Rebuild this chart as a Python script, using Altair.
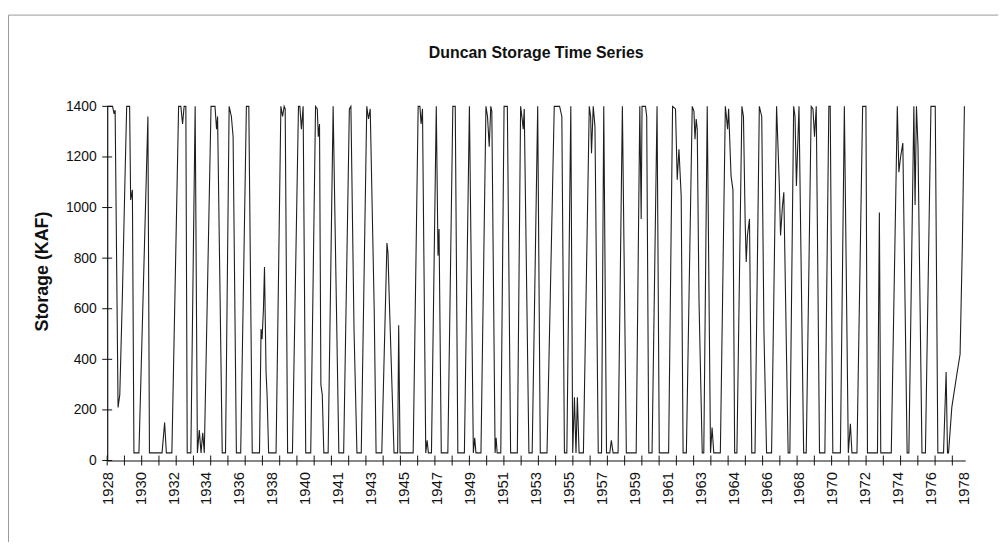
import json
import altair as alt
import pandas as pd

# ---- data: time (decimal years from the start of the record) and storage (KAF)
T_1928 = [1928.00, 1928.31, 1928.40, 1928.46, 1928.63, 1928.73, 1928.88, 1929.03, 1929.13, 1929.30,
          1929.36, 1929.46, 1929.55, 1929.84, 1930.36, 1930.45, 1931.18, 1931.33, 1931.43, 1931.75,
          1932.14, 1932.27, 1932.37, 1932.46, 1932.56, 1932.64, 1932.85, 1933.10, 1933.23, 1933.34,
          1933.44, 1933.54, 1933.63, 1934.02, 1934.25, 1934.34, 1934.40, 1934.67, 1934.86, 1935.07,
          1935.20, 1935.30, 1935.49, 1935.74, 1936.07]
S_1928 = [1400, 1400, 1370, 1385, 210, 260, 650, 1110, 1400, 1400,
          1030, 1070, 30, 30, 1360, 30, 30, 150, 30, 30,
          1400, 1400, 1330, 1400, 1400, 30, 30, 1400, 30, 120,
          30, 110, 30, 1400, 1400, 1310, 1360, 30, 30, 1400,
          1360, 1280, 30, 30, 1400]

T_1936 = [1936.21, 1936.41, 1936.83, 1936.92, 1936.98, 1937.06, 1937.12, 1937.21, 1937.27, 1937.36,
          1937.79, 1938.07, 1938.17, 1938.26, 1938.32, 1938.46, 1938.74, 1939.09, 1939.17, 1939.26,
          1939.36, 1939.51, 1939.80, 1940.08, 1940.18, 1940.24, 1940.31, 1940.39, 1940.47, 1940.56,
          1940.81, 1941.10, 1941.21, 1941.43, 1941.71, 1942.04, 1942.13, 1942.31, 1942.48, 1942.73,
          1943.05, 1943.15, 1943.25, 1943.48, 1943.59, 1943.92, 1944.22, 1944.28, 1944.35, 1944.63]
S_1936 = [1400, 30, 30, 520, 480, 600, 765, 350, 260, 30,
          30, 1400, 1360, 1400, 1390, 30, 30, 1400, 1400, 1310,
          1400, 30, 30, 1400, 1390, 1280, 1330, 300, 260, 30,
          30, 1400, 940, 30, 30, 1390, 1400, 520, 30, 30,
          1400, 1350, 1390, 600, 30, 30, 860, 820, 650, 30]

T_1944 = [1944.84, 1944.90, 1944.98, 1945.74, 1946.03, 1946.13, 1946.20, 1946.28, 1946.47, 1946.55,
          1946.62, 1946.80, 1947.08, 1947.18, 1947.24, 1947.37, 1947.75, 1948.04, 1948.18, 1948.33,
          1948.71, 1949.00, 1949.23, 1949.31, 1949.38, 1949.67, 1949.96, 1950.05, 1950.15, 1950.24,
          1950.30, 1950.49, 1950.55, 1950.61, 1950.82, 1951.01, 1951.20, 1951.39, 1951.78, 1951.97,
          1952.06, 1952.12, 1952.18, 1952.45, 1952.64]
S_1944 = [30, 535, 30, 30, 1400, 1400, 1330, 1390, 30, 80,
          30, 30, 1400, 810, 915, 30, 30, 1400, 1400, 30,
          30, 1400, 30, 90, 30, 30, 1400, 1360, 1240, 1400,
          1380, 30, 90, 30, 30, 1400, 1400, 30, 30, 1400,
          1350, 1310, 1390, 30, 30]

T_1952 = [1952.96, 1953.11, 1953.50, 1953.92, 1954.23, 1954.36, 1954.51, 1954.65, 1954.88, 1954.99,
          1955.09, 1955.18, 1955.26, 1955.36, 1955.61, 1955.95, 1956.03, 1956.08, 1956.18, 1956.28,
          1956.47, 1956.66, 1956.79, 1956.95, 1957.14, 1957.23, 1957.33, 1957.62, 1957.87, 1958.10,
          1958.67, 1958.88, 1958.96, 1959.01, 1959.21, 1959.28, 1959.40, 1959.59, 1959.88, 1960.01,
          1960.55, 1960.78, 1960.95, 1961.05, 1961.15, 1961.28, 1961.39]
S_1952 = [1400, 30, 30, 1400, 1400, 1360, 30, 30, 1400, 30,
          250, 30, 250, 30, 30, 1400, 1360, 1215, 1400, 1320,
          30, 30, 1400, 30, 30, 80, 30, 30, 1400, 30,
          30, 1400, 955, 1400, 1400, 1360, 30, 30, 1400, 30,
          30, 1400, 1390, 1110, 1230, 1045, 30]

T_1961 = [1961.58, 1961.92, 1962.02, 1962.08, 1962.15, 1962.21, 1962.31, 1962.50, 1962.59, 1962.79,
          1962.98, 1963.07, 1963.17, 1963.55, 1963.84, 1963.90, 1963.97, 1964.03, 1964.17, 1964.28,
          1964.38, 1964.51, 1964.80, 1964.89, 1964.99, 1965.05, 1965.12, 1965.24, 1965.37, 1965.56,
          1965.81, 1965.95, 1966.08, 1966.23, 1966.52, 1966.81, 1966.96, 1967.04, 1967.15, 1967.23,
          1967.48, 1967.58, 1967.80, 1967.88, 1967.96, 1968.11, 1968.38, 1968.53, 1968.82, 1968.92,
          1969.01, 1969.11, 1969.30, 1969.61]
S_1961 = [30, 1400, 1380, 1270, 1350, 1310, 640, 30, 30, 1400,
          30, 130, 30, 30, 1400, 1360, 1310, 1390, 1125, 1070,
          30, 30, 1400, 1360, 940, 785, 890, 955, 30, 30,
          1400, 1360, 500, 30, 30, 1400, 1110, 890, 1005, 1060,
          30, 30, 1400, 1360, 1085, 1400, 30, 30, 1400, 1390,
          1280, 1400, 30, 30]

T_1969 = [1969.84, 1969.92, 1970.07, 1970.51, 1970.74, 1970.97, 1971.09, 1971.18, 1971.47, 1971.80,
          1971.99, 1972.08, 1972.66, 1972.77, 1972.85, 1973.46, 1973.81, 1973.90, 1974.00, 1974.13,
          1974.38, 1974.48, 1974.77, 1974.84, 1974.92, 1975.01, 1975.24, 1975.44, 1975.76, 1976.01,
          1976.16, 1976.49, 1976.64, 1976.72, 1976.78, 1976.97, 1977.26, 1977.45, 1977.58, 1977.70]
S_1969 = [1400, 1400, 30, 30, 1400, 30, 145, 30, 30, 1400,
          1400, 30, 30, 980, 30, 30, 1400, 1140, 1200, 1255,
          30, 30, 1400, 1010, 1400, 1240, 30, 30, 1400, 1400,
          30, 30, 350, 30, 30, 210, 340, 420, 850, 1400]

TICK_LABELS = ["1928", "1930", "1932", "1934", "1936", "1938", "1940", "1941", "1943", "1945",
               "1947", "1949", "1951", "1953", "1955", "1957", "1959", "1961", "1963", "1964",
               "1966", "1968", "1970", "1972", "1974", "1976", "1978"]
LABEL_STEP = 1.91            # years between category labels on the original axis
YEAR_TICKS = list(range(1928, 1978))
Y_TICKS = [0, 200, 400, 600, 800, 1000, 1200, 1400]

T_ALL = T_1928 + T_1936 + T_1944 + T_1952 + T_1961 + T_1969
S_ALL = S_1928 + S_1936 + S_1944 + S_1952 + S_1961 + S_1969
df = pd.DataFrame({"t": T_ALL, "kaf": S_ALL})
label_pos = [round(1928 + k * LABEL_STEP, 4) for k in range(len(TICK_LABELS))]
ticks_df = pd.DataFrame({"t": YEAR_TICKS})
yticks_df = pd.DataFrame({"kaf": Y_TICKS})

W, H = 865, 357
FONT = "Liberation Sans"
xscale = alt.Scale(domain=[1928, 1977.75], nice=False, zero=False)
yscale = alt.Scale(domain=[0, 1400], nice=False)

label_expr = (json.dumps(TICK_LABELS) +
              f"[round((datum.value - 1928) / {LABEL_STEP})]")

x_axis = alt.Axis(values=label_pos, labelExpr=label_expr, labelAngle=-90,
                  labelFontSize=15, labelFont=FONT, labelColor="#111",
                  labelPadding=11, labelOverlap=False, labelFlush=False,
                  ticks=False, grid=False, title=None,
                  domainColor="#111", domainWidth=1.2)
y_axis = alt.Axis(values=Y_TICKS, format="d", labelFontSize=14, labelFont=FONT,
                  labelColor="#111", labelPadding=11, ticks=False, grid=False,
                  title="Storage (KAF)", titleFont=FONT, titleFontSize=18,
                  titleFontWeight="bold", titleColor="#111", titlePadding=14,
                  titleY=166, titleAlign="center",
                  domainColor="#111", domainWidth=1.2)

line = alt.Chart(df).mark_line(color="#1e1e1e", strokeWidth=1.1).encode(
    x=alt.X("t:Q", scale=xscale, axis=x_axis),
    y=alt.Y("kaf:Q", scale=yscale, axis=y_axis),
)

xticks = alt.Chart(ticks_df).mark_rule(color="#111", strokeWidth=1).encode(
    x=alt.X("t:Q", scale=xscale, axis=x_axis),
    y=alt.value(H - 5), y2=alt.value(H + 5),
)

yticks = alt.Chart(yticks_df).mark_rule(color="#111", strokeWidth=1).encode(
    y=alt.Y("kaf:Q", scale=yscale, axis=y_axis),
    x=alt.value(-5), x2=alt.value(5),
)

# thin page frame of the original figure (top and left edges visible)
frame = alt.Chart(pd.DataFrame({"f": [0]})).mark_rect(
    filled=False, stroke="#999999", strokeWidth=1).encode(
    x=alt.value(-99.5), x2=alt.value(960), y=alt.value(-92), y2=alt.value(560),
)

chart = alt.layer(line, xticks, yticks, frame).properties(
    width=W, height=H,
    background="white",
    title=alt.TitleParams("Duncan Storage Time Series", font=FONT, fontSize=16,
                          fontWeight="bold", color="#111", anchor="middle", offset=-47),
    autosize=alt.AutoSizeParams(type="none"),
    padding={"left": 100, "top": 97, "right": 33, "bottom": 80},
).configure_view(stroke=None)

chart.save("out.html", embed_options={"renderer": "svg", "actions": False})
